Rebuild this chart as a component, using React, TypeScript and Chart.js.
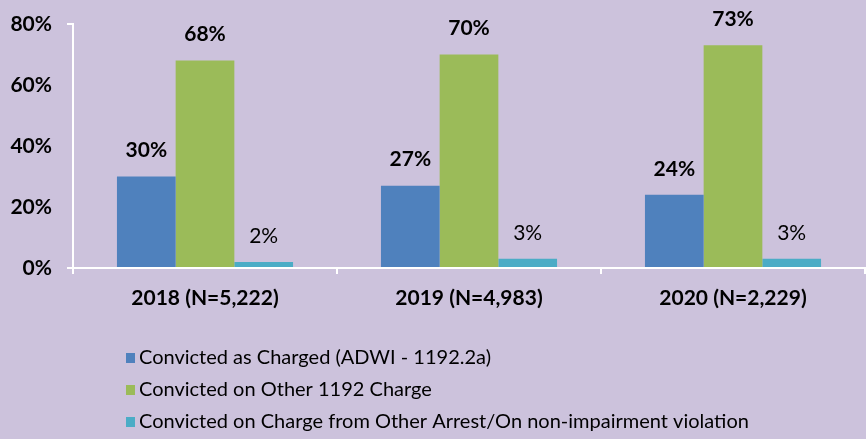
import React, { useEffect, useRef } from "react";
import { Chart, registerables } from "chart.js";

Chart.register(...registerables);

const categories = ["2018 (N=5,222)", "2019 (N=4,983)", "2020 (N=2,229)"];
const seriesNames = [
  "Convicted as Charged (ADWI - 1192.2a)",
  "Convicted on Other 1192 Charge",
  "Convicted on Charge from Other Arrest/On non-impairment violation",
];
const asCharged = [30, 27, 24];
const otherCharge = [68, 70, 73];
const otherArrest = [2, 3, 3];
const seriesColors = ["#4F81BD", "#9BBB59", "#4BACC6"];
const labelBold = [true, true, false];
const yTicks = [0, 20, 40, 60, 80];

const BG = "#CCC2DC";
const FONT = "Lato, 'Open Sans', sans-serif";

const dataLabelPlugin = {
  id: "dataLabels",
  afterDatasetsDraw(chart: any) {
    const ctx = chart.ctx;
    ctx.save();
    ctx.textAlign = "center";
    ctx.textBaseline = "middle";
    ctx.fillStyle = "#000";
    chart.data.datasets.forEach((ds: any, i: number) => {
      const meta = chart.getDatasetMeta(i);
      meta.data.forEach((bar: any, j: number) => {
        ctx.font = `${labelBold[i] ? "bold " : ""}21px ${FONT}`;
        ctx.fillText(ds.data[j] + "%", bar.x, bar.y - 26);
      });
    });
    ctx.restore();
  },
};

const legendPlugin = {
  id: "customLegend",
  afterDraw(chart: any) {
    const ctx = chart.ctx;
    ctx.save();
    ctx.textBaseline = "middle";
    ctx.textAlign = "left";
    ctx.font = `20px ${FONT}`;
    chart.data.datasets.forEach((ds: any, i: number) => {
      const y = 358 + i * 32;
      ctx.fillStyle = seriesColors[i];
      ctx.fillRect(126, y - 5, 9, 10);
      ctx.fillStyle = "#000";
      ctx.fillText(ds.label, 139, y);
    });
    ctx.restore();
  },
};

export default function App() {
  const ref = useRef<HTMLCanvasElement>(null);
  useEffect(() => {
    document.body.style.margin = "0";
    const chart = new Chart(ref.current!, {
      type: "bar",
      data: {
        labels: categories,
        datasets: [asCharged, otherCharge, otherArrest].map((d, i) => ({
          label: seriesNames[i],
          data: d,
          backgroundColor: seriesColors[i],
          barPercentage: 1,
          categoryPercentage: 0.667,
        })),
      },
      options: {
        animation: false,
        responsive: false,
        layout: { padding: { top: 24, right: 1, left: 0, bottom: 0 } },
        plugins: { legend: { display: false }, tooltip: { enabled: false } },
        scales: {
          x: {
            afterFit(scale: any) {
              scale.height = 171;
              scale.paddingLeft = 0;
              scale.paddingRight = 0;
            },
            grid: {
              offset: true,
              drawOnChartArea: false,
              drawTicks: true,
              tickLength: 6,
              color: "#FFFFFF",
              lineWidth: 2,
            },
            border: { color: "#FFFFFF", width: 2 },
            ticks: {
              color: "#000",
              padding: 12,
              font: { family: FONT, size: 21, weight: "bold" },
            },
          },
          y: {
            min: 0,
            max: 80,
            afterFit(scale: any) {
              scale.width = 73;
              scale.paddingTop = 0;
              scale.paddingBottom = 0;
            },
            afterBuildTicks(scale: any) {
              scale.ticks = yTicks.map((v) => ({ value: v }));
            },
            grid: {
              drawOnChartArea: false,
              drawTicks: true,
              tickLength: 6,
              lineWidth: 2,
              color: (c: any) =>
                c.tick && (c.tick.value === 80 || c.tick.value === 0) ? "#FFFFFF" : "rgba(0,0,0,0)",
            },
            border: { color: "#FFFFFF", width: 2 },
            ticks: {
              color: "#000",
              padding: 15,
              font: { family: FONT, size: 21, weight: "bold" },
              callback: (v: any) => v + "%",
            },
          },
        },
      },
      plugins: [dataLabelPlugin, legendPlugin],
    });
    return () => chart.destroy();
  }, []);
  return (
    <div style={{ width: 866, height: 439, background: BG }}>
      <canvas ref={ref} width={866} height={439} style={{ display: "block" }} />
    </div>
  );
}
